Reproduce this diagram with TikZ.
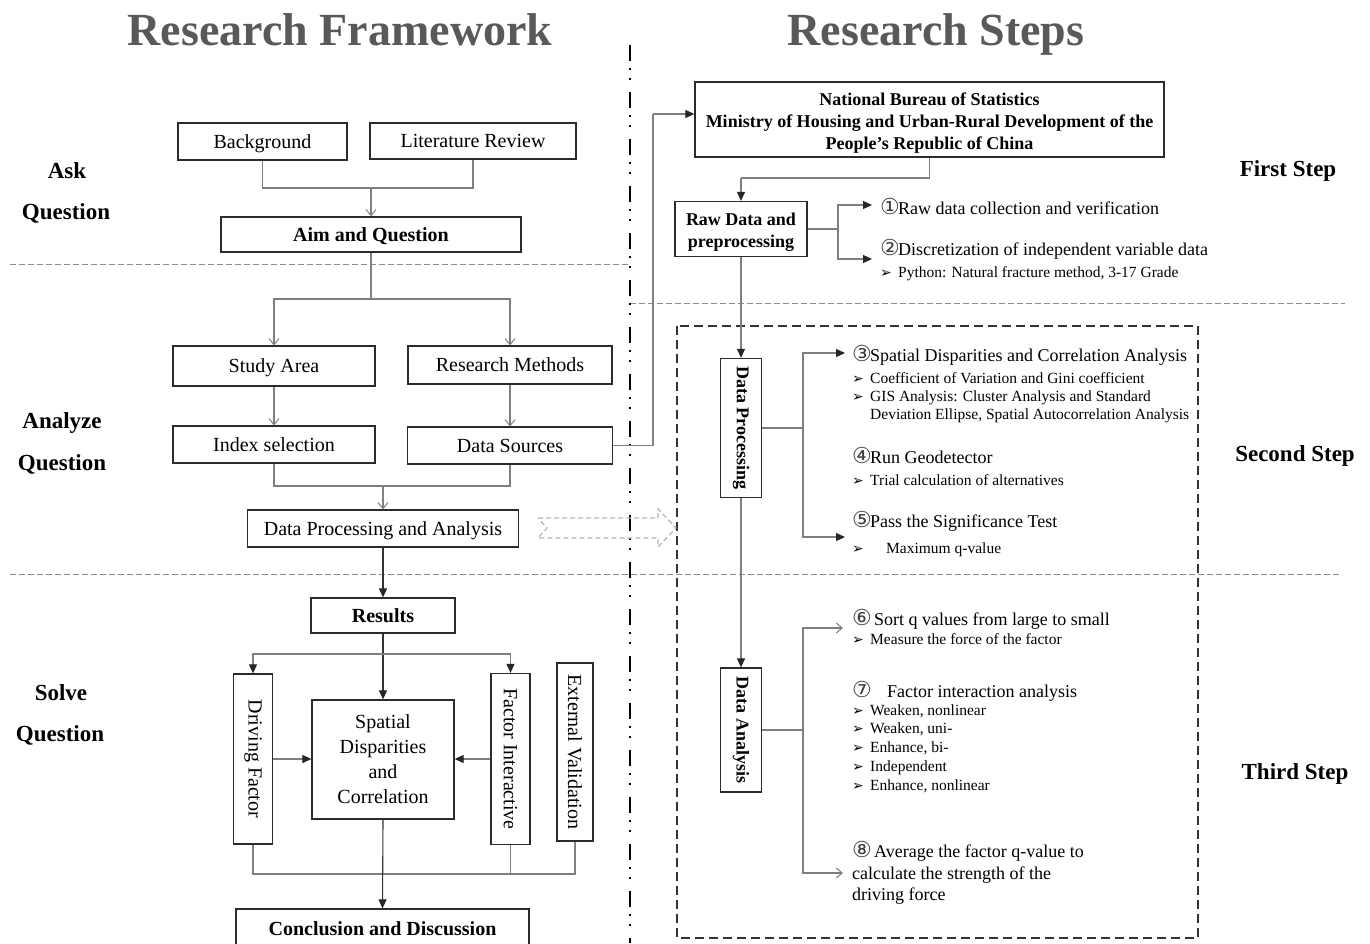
\documentclass[tikz,border=0pt]{standalone}
\usepackage{fontspec}
\setmainfont{Liberation Serif}
\newfontfamily\dejavu{DejaVu Sans}
\usetikzlibrary{arrows.meta}
\definecolor{ln}{HTML}{7F7F7F}
\definecolor{bx}{HTML}{2B2B2B}
\definecolor{ttl}{HTML}{595959}
\definecolor{sepc}{HTML}{8C8C8C}
\definecolor{hol}{HTML}{B4B4B4}
\newcommand\fsA{\fontsize{20}{25}\selectfont}
\newcommand\fsB{\fontsize{18}{22}\selectfont}
\newcommand\fsC{\fontsize{15.5}{19}\selectfont}
\newcommand\fsL{\fontsize{23}{28}\selectfont\bfseries}
\newcommand\fsT{\fontsize{46}{50}\selectfont\bfseries}
\newcommand\tup{\rule{0pt}{19pt}}
\newcommand\bul{\makebox[18pt][l]{\dejavu\fontsize{14}{14}\selectfont ➢}}
\newcommand\cnum[1]{\makebox[18pt][l]{\raisebox{-0.5pt}{\color{black!75}\dejavu\fontsize{22}{22}\selectfont #1}}}
\begin{document}
\begin{tikzpicture}[x=1pt,y=-1pt,
  box/.style={draw=bx, line width=1.3pt, inner sep=0pt, align=center, font=\fsA, text=black},
  sbox/.style={box, text height=13.5pt, text depth=0pt},
  bbox/.style={sbox, font=\fsA\bfseries},
  rbox/.style={box, font=\fsB\bfseries},
  rot/.style={rotate=-90, inner sep=0pt},
  lab/.style={font=\fsL, inner sep=0pt},
  wire/.style={draw=ln, line width=1.1pt},
  conn/.style={wire, -{Straight Barb[length=6pt,width=10pt,line width=1pt]}},
  sconn/.style={wire, -{Triangle[length=9pt,width=8pt,color=black!85]}},
  spine/.style={sconn, draw=black!80},
  sepline/.style={draw=sepc, line width=1pt, dash pattern=on 6pt off 3pt},
  itm/.style={anchor=base west, inner sep=0pt, font=\fsB},
  subitm/.style={anchor=base west, inner sep=0pt, font=\fsC}]
\useasboundingbox (0,0) rectangle (1370,943);
\fill[white] (0,0) rectangle (1370,943);

% titles
\node[font=\fsT, text=ttl, anchor=base, inner sep=0pt] (t1) at (340,45) {Research Framework};
\node[font=\fsT, text=ttl, anchor=base, inner sep=0pt] (t2) at (936,45) {Research Steps};

% separators
\draw[sepline] (10,264) -- (630,264);
\draw[sepline] (630,303) -- (1345,303);
\draw[sepline] (10,574) -- (1342,574);
\draw[line width=2.8pt, dash pattern=on 16pt off 7pt on 2pt off 8pt on 2pt off 12pt] (630,45) -- (630,943);
\draw[line width=1.5pt, draw=black!80, dash pattern=on 9pt off 5pt] (677,326) rectangle (1198,938);
\draw[draw=hol, line width=1.2pt, dash pattern=on 5pt off 3pt] (538,518) -- (658,518) -- (658,509) -- (676,528) -- (658,547) -- (658,538) -- (538,538) -- (547,528) -- cycle;

% side labels
\node[lab] (l1) at (67,171) {Ask};
\node[lab] (l2) at (66,213) {Question};
\node[lab] (l3) at (62,423) {Analyze};
\node[lab] (l4) at (62,464) {Question};
\node[lab] (l5) at (61,693) {Solve};
\node[lab] (l6) at (60,735) {Question};
\node[lab] (r1) at (1288,171) {First Step};
\node[lab] (r2) at (1295,456) {Second Step};
\node[lab] (r3) at (1295,774) {Third Step};

% left boxes
\node[sbox, minimum width=169pt, minimum height=37pt] (bg) at (262.5,141.5) {Background};
\node[sbox, minimum width=206pt, minimum height=36pt] (lr) at (473,141) {Literature Review};
\node[bbox, minimum width=300pt, minimum height=35pt] (aim) at (371,234.5) {Aim and Question};
\node[sbox, minimum width=202pt, minimum height=40pt] (sa) at (274,366) {Study Area};
\node[sbox, minimum width=204pt, minimum height=38pt] (rm) at (510,365) {Research Methods};
\node[sbox, minimum width=202pt, minimum height=37pt] (is) at (274,444.5) {Index selection};
\node[sbox, minimum width=205pt, minimum height=37pt] (ds) at (510,445.5) {Data Sources};
\node[sbox, minimum width=271pt, minimum height=37pt] (dpa) at (383,528.5) {Data Processing and Analysis};
\node[bbox, minimum width=144pt, minimum height=35pt] (res) at (383,615.5) {Results};
\node[box, minimum width=39pt, minimum height=170pt] (df) at (253,759) {};
\node[rot, font=\fsA] (dft) at (df.center) {Driving Factor};
\node[box, minimum width=142pt, minimum height=119pt] (sdc) at (383,759.5) {Spatial\\Disparities\\and\\Correlation};
\node[box, minimum width=39pt, minimum height=171pt] (fi) at (510.5,759) {};
\node[rot, font=\fsA] (fit) at (fi.center) {Factor Interactive};
\node[box, minimum width=36pt, minimum height=178pt] (ev) at (575,752) {};
\node[rot, font=\fsA] (evt) at (ev.center) {External Validation};
\node[bbox, minimum width=293pt, minimum height=40pt] (cd) at (382.5,929) {Conclusion and Discussion};

% right boxes
\node[rbox, minimum width=469pt, minimum height=75pt] (nbs) at (929.5,119.5) {\tup National Bureau of Statistics\\Ministry of Housing and Urban-Rural Development of the\\People’s Republic of China};
\node[rbox, minimum width=132pt, minimum height=55pt] (raw) at (741,229) {\tup Raw Data and\\preprocessing};
\node[box, minimum width=41pt, minimum height=139pt] (dp) at (741,428) {};
\node[rot, font=\fsB\bfseries] (dpt) at (dp.center) {Data Processing};
\node[box, minimum width=41pt, minimum height=124pt] (da) at (741,730) {};
\node[rot, font=\fsB\bfseries] (dat) at (da.center) {Data Analysis};

% left connectors
\coordinate (j1) at (371,188);
\draw[wire] (bg.south) |- (j1);
\draw[wire] (lr.south) |- (j1);
\draw[conn] (j1) -- (aim.north);
\coordinate (j2) at (371,299);
\draw[wire] (aim.south) -- (j2);
\draw[conn] (j2) -| (sa.north);
\draw[conn] (j2) -| (rm.north);
\draw[conn] (sa.south) -- (is.north);
\draw[conn] (rm.south) -- (ds.north);
\coordinate (j3) at (383,486);
\draw[wire] (is.south) |- (j3);
\draw[wire] (ds.south) |- (j3);
\draw[conn] (j3) -- (dpa.north);
\draw[spine] (dpa.south) -- (res.north);
\draw[spine] (res.south) -- (sdc.north);
\coordinate (j4) at (383,654);
\draw[sconn] (j4) -| (df.north);
\draw[sconn] (j4) -| (fi.north);
\draw[sconn] (df.east) -- (sdc.west |- df.east);
\draw[sconn] (fi.west) -- (sdc.east |- fi.west);
\coordinate (j5) at (383,874);
\draw[wire] (df.south) |- (j5);
\draw[wire] (ev.south) |- (j5);
\draw[wire] (fi.south) -- (fi.south |- j5);
\draw[spine] (sdc.south) -- (cd.north);

% right connectors
\coordinate (j6) at (653,114);
\draw[wire] (ds.east) -| (j6);
\draw[sconn] (j6) -- (nbs.west |- j6);
\coordinate (j7) at (741,178);
\draw[wire] (nbs.south) |- (j7);
\draw[sconn] (j7) -- (raw.north);
\coordinate (j8) at (838,229);
\coordinate (a1) at (872,205);
\coordinate (a2) at (872,259);
\draw[wire] (raw.east) -- (j8);
\draw[sconn] (j8) |- (a1);
\draw[sconn] (j8) |- (a2);
\draw[sconn] (raw.south) -- (dp.north);
\draw[sconn] (dp.south) -- (da.north);
\coordinate (j9) at (803,428);
\coordinate (a3) at (845,353);
\coordinate (a5) at (845,537);
\draw[wire] (dp.east) -- (j9);
\draw[sconn] (j9) |- (a3);
\draw[sconn] (j9) |- (a5);
\coordinate (j10) at (803,730);
\coordinate (a6) at (843,628);
\coordinate (a8) at (843,873);
\draw[wire] (da.east) -- (j10);
\draw[conn] (j10) |- (a6);
\draw[conn] (j10) |- (a8);

% step texts
\node[itm] (s1) at (880,214) {\cnum{①}Raw data collection and verification};
\node[itm] (s2) at (880,255) {\cnum{②}Discretization of independent variable data};
\node[subitm] (s2a) at (880,277) {\bul Python: Natural fracture method, 3-17 Grade};
\node[itm] (s3) at (852,361) {\cnum{③}Spatial Disparities and Correlation Analysis};
\node[subitm] (s3a) at (852,383) {\bul Coefficient of Variation and Gini coefficient};
\node[subitm] (s3b) at (852,401) {\bul GIS Analysis: Cluster Analysis and Standard};
\node[subitm] (s3c) at (870,419) {Deviation Ellipse, Spatial Autocorrelation Analysis};
\node[itm] (s4) at (852,463) {\cnum{④}Run Geodetector};
\node[subitm] (s4a) at (852,485) {\bul Trial calculation of alternatives};
\node[itm] (s5) at (852,527) {\cnum{⑤}Pass the Significance Test};
\node[subitm] (s5a) at (852,553) {\bul\hspace{16pt}Maximum q-value};
\node[itm] (s6) at (852,625) {\cnum{⑥}\hspace{4pt}Sort q values from large to small};
\node[subitm] (s6a) at (852,644) {\bul Measure the force of the factor};
\node[itm] (s7) at (852,697) {\cnum{⑦}\hspace{17pt}Factor interaction analysis};
\node[subitm] (s7a) at (852,715) {\bul Weaken, nonlinear};
\node[subitm] (s7b) at (852,733) {\bul Weaken, uni-};
\node[subitm] (s7c) at (852,752) {\bul Enhance, bi-};
\node[subitm] (s7d) at (852,771) {\bul Independent};
\node[subitm] (s7e) at (852,790) {\bul Enhance, nonlinear};
\node[itm] (s8) at (852,857) {\cnum{⑧}\hspace{4pt}Average the factor q-value to};
\node[itm] (s8b) at (852,879) {calculate the strength of the};
\node[itm] (s8c) at (852,900) {driving force};
\end{tikzpicture}
\end{document}
